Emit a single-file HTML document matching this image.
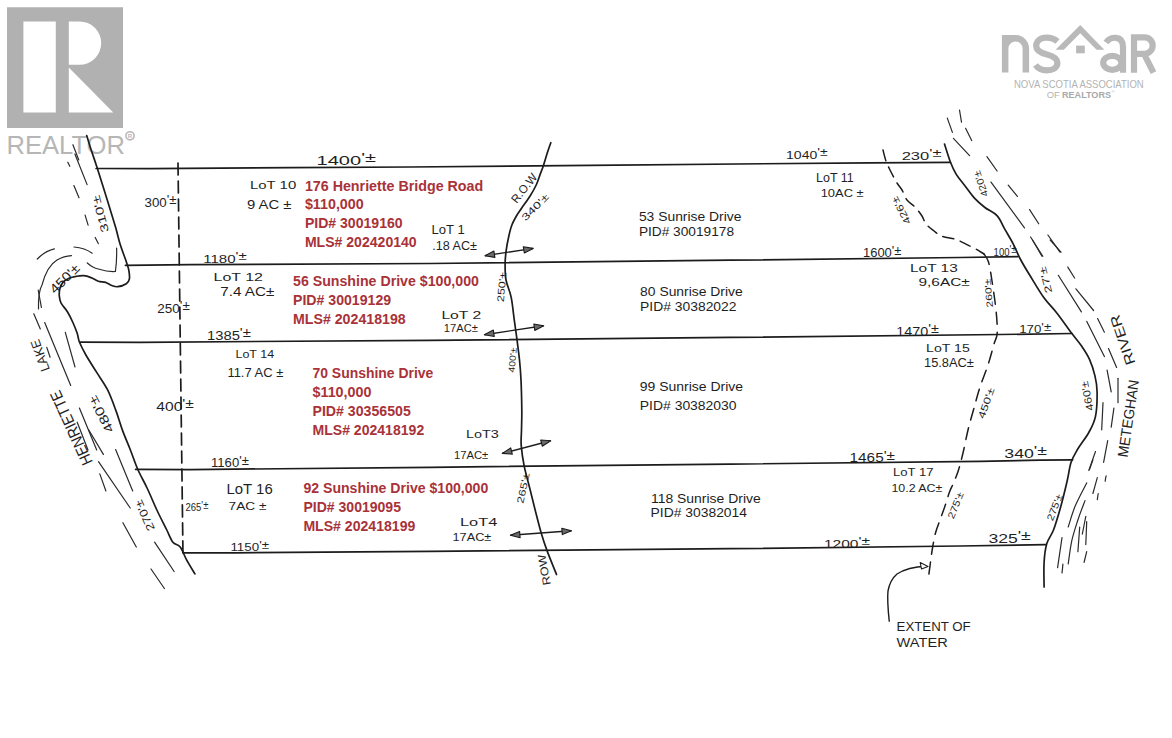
<!DOCTYPE html>
<html><head><meta charset="utf-8">
<style>
html,body{margin:0;padding:0;background:#fff;}
body{width:1172px;height:738px;overflow:hidden;position:relative;font-family:"Liberation Sans",sans-serif;}
svg{position:absolute;left:0;top:0;font-family:"Liberation Sans",sans-serif;}
.hw{fill:#1f1f1f;}
.red{font-weight:bold;fill:#a93239;}
.blk{fill:#1e1e1e;}
</style></head><body>
<svg width="1172" height="738" viewBox="0 0 1172 738">
<path fill="#b1b1b1" fill-rule="evenodd" d="M7 7.3H123V128H7Z M23.4 21.5H55.8V112.4H23.4Z M68.8 21.4H79.5A21.7 21.7 0 0 1 79.5 64.8H68.8Z M68.8 67.6L113.3 112.4H68.8Z"/>
<text x="6.5" y="154.3" font-size="25.5" fill="#b6b6b6" textLength="118.5" lengthAdjust="spacingAndGlyphs">REALTOR</text>
<circle cx="130" cy="135.8" r="4.1" fill="none" stroke="#b8b8b8" stroke-width="1.6"/>
<text x="127.7" y="138.2" font-size="6" font-weight="bold" fill="#b8b8b8">R</text>
<g fill="#b9b9b9">
<path d="M1001.9 72.4V35H1015.5A13.6 13.6 0 0 1 1029.1 48.6V72.4H1022.6V48.6A7.1 7.1 0 0 0 1008.4 48.6V72.4Z"/>
<path d="M1055.6 49.7L1080.2 25.1L1104.3 49.7H1096.6L1080.2 33.3L1063.8 49.7Z"/>
<rect x="1076.1" y="45.6" width="8.7" height="7.7"/>
</g>
<g fill="none" stroke="#b9b9b9" stroke-width="6.2">
<path d="M1057.5 41.5C1054 38.5 1050 37.6 1046.8 37.6C1040 37.6 1036.2 41.5 1036.2 46C1036.2 51 1041 53 1047 54.5C1053 56 1057.4 58 1057.4 63C1057.4 67.5 1053 70.3 1046.8 70.3C1042 70.3 1038 68.5 1035.5 65"/>
<path d="M1106 42.5C1109 38.5 1113 37.6 1116 37.8C1120.5 38.2 1123 41 1123 47V72.7"/>
<ellipse cx="1112.3" cy="62.8" rx="9.1" ry="7"/>
<path d="M1134 72.7V37.4H1144.5A8.2 8.2 0 0 1 1144.5 53.8H1134M1144 53.8L1153.5 72.7"/>
</g>
<text x="1014" y="88.3" font-size="10.6" fill="#b3b3b3" textLength="129.7" lengthAdjust="spacingAndGlyphs">NOVA SCOTIA ASSOCIATION</text>
<text x="1046.7" y="97.6" font-size="9.4" fill="#b3b3b3" textLength="13" lengthAdjust="spacingAndGlyphs">OF</text>
<text x="1062" y="97.6" font-size="9.4" font-weight="bold" fill="#a9a9a9" textLength="49" lengthAdjust="spacingAndGlyphs">REALTORS</text>
<text x="1111.5" y="93" font-size="4" fill="#b3b3b3">®</text>
<g fill="none" stroke="#1c1c1c" stroke-width="1.7" stroke-linejoin="round" stroke-linecap="round">
<polyline points="96.1,168.5 150.0,168.6 290.0,167.6 410.0,167.0 590.0,165.3 870.0,162.8 950.4,162.3" />
<polyline points="125.4,265.3 190.0,264.6 430.0,263.5 730.0,260.2 960.0,257.5 1018.0,256.7" />
<polyline points="80.0,342.2 140.0,342.3 430.0,340.3 730.0,337.4 1000.0,334.5 1071.9,333.5" />
<polyline points="135.6,469.4 190.0,469.6 430.0,467.3 730.0,464.1 980.0,461.4 1040.0,460.2 1072.7,459.8" />
<polyline points="183.7,552.8 235.0,552.8 430.0,551.4 730.0,548.7 960.0,546.0 1045.6,544.7" />
<path d="M550.8 142.7 C550.2 144.5 548.3 149.8 547.1 153.6 C545.9 157.4 544.5 162.3 543.4 165.7 C542.3 169.1 541.5 170.7 540.3 173.9 C539.1 177.1 537.9 181.3 536.2 185.0 C534.5 188.7 532.5 192.1 530.1 196.0 C527.7 199.9 523.8 204.9 521.6 208.2 C519.4 211.4 518.3 212.7 516.7 215.5 C515.1 218.3 513.1 221.8 511.8 225.2 C510.5 228.6 509.7 232.1 508.8 236.2 C507.9 240.3 506.9 245.1 506.3 249.6 C505.7 254.1 505.2 257.9 505.1 263.0 C505.1 268.1 505.0 274.3 506.0 280.0 C507.0 285.7 509.8 290.4 511.2 297.4 C512.6 304.3 513.5 314.7 514.5 321.7 C515.5 328.7 516.2 333.2 517.0 339.6 C517.8 346.0 518.8 353.3 519.5 360.0 C520.2 366.7 520.6 371.7 521.0 380.0 C521.4 388.3 521.7 401.7 521.8 410.0 C521.9 418.3 521.6 424.1 521.5 430.0 C521.4 435.9 520.8 439.4 521.2 445.4 C521.7 451.4 522.7 458.8 524.2 466.1 C525.7 473.4 528.1 481.5 530.0 489.2 C531.9 496.9 533.8 504.7 535.7 512.2 C537.6 519.7 539.6 527.6 541.5 534.1 C543.4 540.6 544.8 544.7 547.3 551.4 C549.8 558.1 555.0 570.6 556.5 574.5"/>
<path d="M86.7 135.5 C87.5 137.9 89.4 144.5 91.2 150.0 C93.0 155.5 94.6 159.8 97.3 168.3 C100.0 176.8 104.5 191.0 107.5 200.8 C110.5 210.6 113.5 220.0 115.6 227.3 C117.7 234.6 118.4 238.9 120.2 244.6 C122.0 250.3 124.9 257.4 126.3 261.7 C127.7 266.0 128.3 267.3 128.8 270.2 C129.3 273.1 129.8 276.6 129.4 278.8 C129.0 281.1 128.2 282.4 126.3 283.7 C124.4 285.0 120.2 286.4 117.8 286.7 C115.4 287.0 113.7 286.2 111.7 285.5 C109.7 284.8 107.8 283.1 105.6 282.4 C103.4 281.7 100.7 282.0 98.3 281.2 C95.9 280.4 93.4 278.5 91.0 277.6 C88.6 276.7 86.2 275.9 83.7 275.7 C81.2 275.5 78.8 275.9 76.3 276.3 C73.8 276.7 71.2 277.2 69.0 278.2 C66.8 279.2 64.4 280.7 62.9 282.4 C61.4 284.1 60.5 286.2 59.9 288.5 C59.3 290.8 59.1 293.4 59.3 295.9 C59.5 298.3 59.8 300.6 61.1 303.2 C62.5 305.8 65.4 308.5 67.4 311.7 C69.4 314.9 71.3 318.9 72.9 322.5 C74.5 326.1 76.1 330.1 77.2 333.3 C78.3 336.6 78.0 338.4 79.4 342.0 C80.9 345.6 83.0 349.9 85.9 355.0 C88.8 360.1 93.1 366.6 96.7 372.4 C100.3 378.2 104.2 383.2 107.5 389.7 C110.8 396.2 113.7 404.5 116.2 411.4 C118.7 418.3 120.4 424.5 122.7 430.9 C125.0 437.2 127.7 443.1 130.2 449.5 C132.7 455.9 134.8 462.5 137.6 469.0 C140.4 475.5 144.1 481.6 147.3 488.5 C150.6 495.4 153.8 503.6 157.1 510.5 C160.3 517.4 164.2 524.7 166.8 530.0 C169.4 535.3 170.7 539.4 172.9 542.2 C175.1 545.0 178.0 544.1 180.2 547.0 C182.4 549.9 183.9 554.8 186.3 559.3 C188.8 563.8 193.5 571.5 194.9 573.9"/>
<path d="M944.5 144.0 C945.5 147.0 948.5 157.0 950.4 162.0 C952.3 167.0 953.8 170.2 956.1 174.1 C958.5 178.0 961.4 181.1 964.5 185.2 C967.6 189.2 971.3 194.7 974.7 198.4 C978.1 202.1 981.2 204.6 984.9 207.5 C988.6 210.4 993.6 212.0 997.0 215.7 C1000.4 219.4 1002.5 225.2 1005.2 229.9 C1007.9 234.6 1010.8 239.2 1013.3 244.1 C1015.8 248.9 1017.5 253.8 1020.3 259.0 C1023.0 264.2 1025.9 269.0 1029.8 275.3 C1033.7 281.6 1038.9 290.7 1043.4 297.0 C1047.9 303.3 1052.2 307.1 1057.0 313.2 C1061.8 319.3 1067.8 328.2 1071.9 333.6 C1076.0 339.0 1078.5 341.5 1081.4 345.8 C1084.3 350.1 1087.2 354.3 1089.5 359.3 C1091.8 364.3 1093.6 370.2 1094.9 375.6 C1096.2 381.0 1097.0 385.1 1097.1 391.9 C1097.2 398.7 1096.9 409.5 1095.5 416.3 C1094.1 423.1 1091.7 427.1 1088.8 432.5 C1085.9 437.9 1080.9 443.8 1077.9 448.8 C1075.0 453.8 1072.9 456.9 1071.1 462.3 C1069.3 467.7 1068.9 473.6 1067.1 481.3 C1065.3 489.0 1062.6 500.2 1060.3 508.3 C1058.0 516.4 1055.8 524.1 1053.5 530.0 C1051.2 535.9 1048.4 538.2 1046.8 543.6 C1045.2 549.0 1044.5 555.3 1044.1 562.5 C1043.6 569.7 1044.1 582.8 1044.1 586.9"/>
</g>
<g fill="none" stroke="#1c1c1c" stroke-width="1.5" stroke-linecap="round">
<line x1="178" y1="163" x2="183" y2="556" stroke-width="1.7" stroke-dasharray="12 6"/>
<path d="M883.0 150.0 C883.5 151.8 884.8 157.7 886.0 161.0 C887.2 164.3 888.2 166.3 890.0 170.0 C891.8 173.7 895.0 179.7 897.0 183.0 C899.0 186.3 900.3 187.2 902.0 190.0 C903.7 192.8 904.8 197.2 907.0 200.0 C909.2 202.8 912.5 204.3 915.0 207.0 C917.5 209.7 920.2 213.2 922.0 216.0 C923.8 218.8 924.0 221.5 926.0 224.0 C928.0 226.5 931.4 229.0 934.0 231.0 C936.6 233.0 938.1 234.7 941.5 236.0 C944.9 237.3 951.2 238.1 954.5 239.0 C957.8 239.9 958.6 240.5 961.0 241.6 C963.4 242.7 966.3 244.2 969.0 245.6 C971.7 246.9 974.5 248.3 977.0 249.7 C979.5 251.1 982.8 253.3 984.0 254.0" stroke-dasharray="11 7"/>
<path d="M984.0 254.0 C984.8 255.3 987.2 257.5 988.5 262.0 C989.8 266.5 990.8 273.0 992.0 281.0 C993.2 289.0 995.1 301.3 996.0 310.0 C996.9 318.7 997.5 327.3 997.2 333.0 C996.9 338.7 995.5 338.7 994.0 344.0 C992.5 349.3 990.3 357.8 988.0 365.0 C985.7 372.2 982.3 379.8 980.0 387.0 C977.7 394.2 976.0 400.8 974.0 408.0 C972.0 415.2 969.8 422.5 968.0 430.0 C966.2 437.5 964.6 446.3 963.0 453.0 C961.4 459.7 960.0 465.2 958.5 470.0 C957.0 474.8 955.5 478.3 954.0 482.0 C952.5 485.7 951.0 488.0 949.5 492.0 C948.0 496.0 946.6 501.3 945.0 506.0 C943.4 510.7 941.6 515.5 940.0 520.0 C938.4 524.5 936.8 528.3 935.5 533.0 C934.2 537.7 933.3 543.2 932.5 548.0 C931.7 552.8 931.1 557.4 930.5 562.0 C929.9 566.6 929.0 573.2 928.7 575.5" stroke-dasharray="12 8"/>
</g>
<g fill="none" stroke="#2a2a2a" stroke-width="1.2" stroke-linecap="round">
<line x1="947.3" y1="118.1" x2="952.4" y2="132.4"/>
<line x1="953.4" y1="138.4" x2="969.6" y2="155.7"/>
<line x1="991" y1="182.1" x2="1024.5" y2="227.9"/>
<line x1="1030.6" y1="237" x2="1042.8" y2="256.3"/>
<line x1="959.5" y1="110" x2="961.5" y2="122.2"/>
<line x1="965.6" y1="128.3" x2="971.7" y2="140.5"/>
<line x1="986.9" y1="156.7" x2="997.1" y2="171"/>
<line x1="1008.2" y1="185.2" x2="1017.4" y2="196.4"/>
<line x1="1029.6" y1="209.6" x2="1038.7" y2="223.8"/>
<line x1="1047.9" y1="235" x2="1060" y2="252.2"/>
<line x1="1032.5" y1="240" x2="1042" y2="256.3"/>
<line x1="1058.3" y1="275.3" x2="1081.4" y2="311.9"/>
<line x1="1086.8" y1="321.4" x2="1104.4" y2="356.6"/>
<line x1="1107.1" y1="370.2" x2="1111.2" y2="391.9"/>
<line x1="1103" y1="402.7" x2="1101.7" y2="429.8"/>
<line x1="1050.2" y1="240" x2="1061" y2="252.2"/>
<line x1="1067.8" y1="267.1" x2="1074.6" y2="278"/>
<line x1="1075.9" y1="288.8" x2="1093.6" y2="310.5"/>
<line x1="1097.6" y1="318.6" x2="1104.4" y2="332.2"/>
<line x1="1108.5" y1="348.5" x2="1116.6" y2="367.5"/>
<line x1="1118" y1="378.3" x2="1118" y2="402.7"/>
<line x1="1113.9" y1="408.1" x2="1111.2" y2="427.1"/>
<line x1="1107.7" y1="440.6" x2="1103.6" y2="462.3"/>
<line x1="1095.5" y1="451.5" x2="1088.8" y2="470.4"/>
<line x1="72.9" y1="144.7" x2="78.8" y2="160"/>
<line x1="74.9" y1="154" x2="87.1" y2="184.6"/>
<line x1="67.8" y1="162.2" x2="69.8" y2="166.3"/>
<line x1="73.9" y1="185.6" x2="79" y2="197.8"/>
<line x1="85.1" y1="215.1" x2="88.1" y2="225.2"/>
<line x1="95.2" y1="237.5" x2="98.3" y2="243.6"/>
<line x1="33.8" y1="313.8" x2="40.3" y2="329"/>
<line x1="38.2" y1="290" x2="41.4" y2="307.3"/>
<line x1="44.7" y1="322.5" x2="70.7" y2="385.4"/>
<line x1="46.8" y1="347.4" x2="50.1" y2="357.2"/>
<line x1="65.3" y1="332.3" x2="75" y2="367"/>
<line x1="79.4" y1="408.1" x2="96.7" y2="450"/>
<line x1="77.2" y1="422.2" x2="88" y2="450"/>
<line x1="88.8" y1="430" x2="103.4" y2="454.4"/>
<line x1="98.5" y1="461.7" x2="130.2" y2="508"/>
<line x1="115.6" y1="449.5" x2="132.7" y2="491"/>
<line x1="99.8" y1="473.9" x2="105.9" y2="491"/>
<line x1="122.9" y1="522.7" x2="136.3" y2="547"/>
<line x1="154.6" y1="542.2" x2="174.1" y2="571.5"/>
<line x1="151" y1="569" x2="164.4" y2="588.5"/>
<path d="M1092.9 460.0 C1092.3 461.6 1090.0 468.1 1089.4 469.7"/>
<path d="M1097.3 477.6 C1096.6 480.2 1093.6 490.9 1092.9 493.5"/>
<path d="M1098.2 493.5 C1098.0 494.5 1097.5 498.7 1097.3 499.7"/>
<path d="M1086.7 482.9 C1084.8 486.7 1078.4 498.4 1075.3 505.8 C1072.2 513.1 1069.4 523.5 1068.2 527.0"/>
<path d="M1085.0 500.6 C1083.8 503.8 1080.1 513.2 1077.9 520.0 C1075.7 526.8 1073.3 533.8 1071.7 541.1 C1070.1 548.4 1068.8 560.2 1068.2 564.0"/>
<path d="M1085.8 516.4 C1085.2 519.4 1082.9 531.1 1082.3 534.1"/>
<path d="M1086.7 521.7 C1086.5 525.5 1086.0 540.8 1085.8 544.6"/>
<path d="M1079.7 527.0 C1079.4 531.1 1078.2 547.6 1077.9 551.7"/>
<path d="M1062.0 537.6 C1061.3 542.6 1058.3 562.6 1057.6 567.6"/>
<path d="M1062.9 564.0 C1062.8 565.5 1062.2 571.4 1062.0 572.9"/>
<path d="M1086.7 551.7 C1086.3 553.5 1084.5 560.5 1084.1 562.3"/>
<path d="M1106.1 475.9 C1105.9 476.8 1105.3 480.3 1105.2 481.2"/>
<path d="M37.3 259Q45 251 54.4 248.9"/>
<path d="M38.5 309Q38 292 42 285Q47 266 57 260Q64 256 71.5 255.6"/>
<path d="M74 247Q85 248 92.2 253.2"/>
<path d="M87.3 263Q93 268 98.3 269Q108 272 115.4 271.5Q117 260 116.6 248"/>
</g>
<text class="red" x="304.9" y="190.7" font-size="14" textLength="178.3" lengthAdjust="spacingAndGlyphs">176 Henriette Bridge Road</text>
<text class="red" x="304.9" y="209.4" font-size="14" textLength="58.8" lengthAdjust="spacingAndGlyphs">$110,000</text>
<text class="red" x="304.9" y="228.4" font-size="14" textLength="97.7" lengthAdjust="spacingAndGlyphs">PID# 30019160</text>
<text class="red" x="304.9" y="247.4" font-size="14" textLength="111.8" lengthAdjust="spacingAndGlyphs">MLS# 202420140</text>
<text class="red" x="293.0" y="285.8" font-size="14" textLength="185.9" lengthAdjust="spacingAndGlyphs">56 Sunshine Drive $100,000</text>
<text class="red" x="293.0" y="304.5" font-size="14" textLength="98.1" lengthAdjust="spacingAndGlyphs">PID# 30019129</text>
<text class="red" x="293.0" y="323.5" font-size="14" textLength="112.7" lengthAdjust="spacingAndGlyphs">MLS# 202418198</text>
<text class="red" x="312.5" y="378.0" font-size="14" textLength="120.8" lengthAdjust="spacingAndGlyphs">70 Sunshine Drive</text>
<text class="red" x="312.5" y="397.0" font-size="14" textLength="58.9" lengthAdjust="spacingAndGlyphs">$110,000</text>
<text class="red" x="312.5" y="415.8" font-size="14" textLength="98.3" lengthAdjust="spacingAndGlyphs">PID# 30356505</text>
<text class="red" x="312.5" y="434.6" font-size="14" textLength="111.7" lengthAdjust="spacingAndGlyphs">MLS# 202418192</text>
<text class="red" x="303.4" y="493.3" font-size="14" textLength="184.9" lengthAdjust="spacingAndGlyphs">92 Sunshine Drive $100,000</text>
<text class="red" x="303.4" y="511.8" font-size="14" textLength="97.6" lengthAdjust="spacingAndGlyphs">PID# 30019095</text>
<text class="red" x="303.4" y="530.6" font-size="14" textLength="111.9" lengthAdjust="spacingAndGlyphs">MLS# 202418199</text>
<text class="blk" x="638.9" y="220.8" font-size="13.5" textLength="102.5" lengthAdjust="spacingAndGlyphs">53 Sunrise Drive</text>
<text class="blk" x="638.9" y="235.8" font-size="13.5" textLength="95.1" lengthAdjust="spacingAndGlyphs">PID# 30019178</text>
<text class="blk" x="640.1" y="295.9" font-size="13.5" textLength="102.6" lengthAdjust="spacingAndGlyphs">80 Sunrise Drive</text>
<text class="blk" x="640.1" y="310.6" font-size="13.5" textLength="96.4" lengthAdjust="spacingAndGlyphs">PID# 30382022</text>
<text class="blk" x="639.8" y="391.0" font-size="13.5" textLength="103.3" lengthAdjust="spacingAndGlyphs">99 Sunrise Drive</text>
<text class="blk" x="639.8" y="409.7" font-size="13.5" textLength="96.8" lengthAdjust="spacingAndGlyphs">PID# 30382030</text>
<text class="blk" x="651.0" y="502.6" font-size="13.5" textLength="109.7" lengthAdjust="spacingAndGlyphs">118 Sunrise Drive</text>
<text class="blk" x="650.6" y="517.4" font-size="13.5" textLength="96.4" lengthAdjust="spacingAndGlyphs">PID# 30382014</text>
<text class="hw" x="316.6" y="165.0" font-size="12.5" textLength="59.4" lengthAdjust="spacingAndGlyphs">1400<tspan dy="-2.8">'±</tspan></text>
<text class="hw" x="250.0" y="188.5" font-size="11.5" textLength="46.2" lengthAdjust="spacingAndGlyphs">LoT 10</text>
<text class="hw" x="247.0" y="209.0" font-size="12" textLength="44.4" lengthAdjust="spacingAndGlyphs">9 AC ±</text>
<text class="hw" x="144.6" y="206.8" font-size="12" textLength="32.0" lengthAdjust="spacingAndGlyphs">300<tspan dy="-2.6">'±</tspan></text>
<text class="hw" x="203.2" y="262.5" font-size="11" textLength="43.6" lengthAdjust="spacingAndGlyphs">1180<tspan dy="-2.4">'±</tspan></text>
<text class="hw" x="213.6" y="280.5" font-size="11.5" textLength="49.4" lengthAdjust="spacingAndGlyphs">LoT 12</text>
<text class="hw" x="220.3" y="295.7" font-size="12" textLength="54.1" lengthAdjust="spacingAndGlyphs">7.4 AC±</text>
<text class="hw" x="157.3" y="312.8" font-size="12.5" textLength="32.5" lengthAdjust="spacingAndGlyphs">250<tspan dy="-2.8">'±</tspan></text>
<text class="hw" x="207.0" y="339.8" font-size="12.5" textLength="43.8" lengthAdjust="spacingAndGlyphs">1385<tspan dy="-2.8">'±</tspan></text>
<text class="hw" x="235.5" y="358.0" font-size="10" textLength="38.6" lengthAdjust="spacingAndGlyphs">LoT 14</text>
<text class="hw" x="227.4" y="377.4" font-size="12" textLength="55.9" lengthAdjust="spacingAndGlyphs">11.7 AC ±</text>
<text class="hw" x="156.3" y="411.0" font-size="12" textLength="37.6" lengthAdjust="spacingAndGlyphs">400<tspan dy="-2.6">'±</tspan></text>
<text class="hw" x="211.0" y="467.3" font-size="12" textLength="37.9" lengthAdjust="spacingAndGlyphs">1160<tspan dy="-2.6">'±</tspan></text>
<text class="hw" x="226.5" y="493.7" font-size="14" textLength="46.2" lengthAdjust="spacingAndGlyphs">LoT 16</text>
<text class="hw" x="228.6" y="509.6" font-size="11.5" textLength="37.9" lengthAdjust="spacingAndGlyphs">7AC ±</text>
<text class="hw" x="185.5" y="510.8" font-size="10.5" textLength="22.9" lengthAdjust="spacingAndGlyphs">265<tspan dy="-2.3">'±</tspan></text>
<text class="hw" x="230.4" y="551.0" font-size="11" textLength="38.7" lengthAdjust="spacingAndGlyphs">1150<tspan dy="-2.4">'±</tspan></text>
<text class="hw" x="431.5" y="233.9" font-size="13" textLength="33.2" lengthAdjust="spacingAndGlyphs">LoT 1</text>
<text class="hw" x="432.2" y="249.8" font-size="12" textLength="44.7" lengthAdjust="spacingAndGlyphs">.18 AC±</text>
<text class="hw" x="441.4" y="318.8" font-size="11" textLength="39.8" lengthAdjust="spacingAndGlyphs">LoT 2</text>
<text class="hw" x="443.8" y="331.5" font-size="10.5" textLength="34.1" lengthAdjust="spacingAndGlyphs">17AC±</text>
<text class="hw" x="466.0" y="438.2" font-size="11" textLength="32.8" lengthAdjust="spacingAndGlyphs">LoT3</text>
<text class="hw" x="454.0" y="459.0" font-size="11" textLength="34.3" lengthAdjust="spacingAndGlyphs">17AC±</text>
<text class="hw" x="460.0" y="526.0" font-size="11" textLength="37.3" lengthAdjust="spacingAndGlyphs">LoT4</text>
<text class="hw" x="452.5" y="541.0" font-size="10.5" textLength="38.8" lengthAdjust="spacingAndGlyphs">17AC±</text>
<text class="hw" x="786.1" y="158.8" font-size="11.5" textLength="41.5" lengthAdjust="spacingAndGlyphs">1040<tspan dy="-2.5">'±</tspan></text>
<text class="hw" x="901.7" y="159.5" font-size="11" textLength="39.8" lengthAdjust="spacingAndGlyphs">230<tspan dy="-2.4">'±</tspan></text>
<text class="hw" x="816.0" y="181.8" font-size="12" textLength="37.7" lengthAdjust="spacingAndGlyphs">LoT 11</text>
<text class="hw" x="820.7" y="197.2" font-size="11.5" textLength="43.0" lengthAdjust="spacingAndGlyphs">10AC ±</text>
<text class="hw" x="863.0" y="257.2" font-size="12" textLength="38.4" lengthAdjust="spacingAndGlyphs">1600<tspan dy="-2.6">'±</tspan></text>
<text class="hw" x="993.6" y="255.5" font-size="11" textLength="23.0" lengthAdjust="spacingAndGlyphs">100<tspan dy="-2.4">'±</tspan></text>
<text class="hw" x="910.0" y="271.7" font-size="10.5" textLength="47.7" lengthAdjust="spacingAndGlyphs">LoT 13</text>
<text class="hw" x="918.5" y="286.2" font-size="11.5" textLength="51.2" lengthAdjust="spacingAndGlyphs">9,6AC±</text>
<text class="hw" x="896.3" y="336.0" font-size="12" textLength="42.7" lengthAdjust="spacingAndGlyphs">1470<tspan dy="-2.6">'±</tspan></text>
<text class="hw" x="1019.2" y="333.4" font-size="11.5" textLength="32.0" lengthAdjust="spacingAndGlyphs">170<tspan dy="-2.5">'±</tspan></text>
<text class="hw" x="926.1" y="351.5" font-size="11.5" textLength="43.7" lengthAdjust="spacingAndGlyphs">LoT 15</text>
<text class="hw" x="924.0" y="366.8" font-size="12.5" textLength="49.9" lengthAdjust="spacingAndGlyphs">15.8AC±</text>
<text class="hw" x="849.6" y="462.3" font-size="12" textLength="45.4" lengthAdjust="spacingAndGlyphs">1465<tspan dy="-2.6">'±</tspan></text>
<text class="hw" x="1004.3" y="458.0" font-size="12.5" textLength="42.7" lengthAdjust="spacingAndGlyphs">340<tspan dy="-2.8">'±</tspan></text>
<text class="hw" x="893.0" y="476.4" font-size="10.5" textLength="40.6" lengthAdjust="spacingAndGlyphs">LoT 17</text>
<text class="hw" x="891.4" y="492.3" font-size="10.5" textLength="51.0" lengthAdjust="spacingAndGlyphs">10.2 AC±</text>
<text class="hw" x="823.9" y="547.7" font-size="11" textLength="46.1" lengthAdjust="spacingAndGlyphs">1200<tspan dy="-2.4">'±</tspan></text>
<text class="hw" x="988.4" y="543.0" font-size="13" textLength="42.4" lengthAdjust="spacingAndGlyphs">325<tspan dy="-2.9">'±</tspan></text>
<text class="hw" x="896.6" y="630.6" font-size="12" textLength="74.0" lengthAdjust="spacingAndGlyphs">EXTENT OF</text>
<text class="hw" x="896.6" y="646.5" font-size="12" textLength="51.1" lengthAdjust="spacingAndGlyphs">WATER</text>
<text class="hw" x="524.0" y="192.2" font-size="11.8" text-anchor="middle" textLength="34.0" lengthAdjust="spacingAndGlyphs" transform="rotate(-51.7 524.0 188.0)">R.O.W</text>
<text class="hw" x="535.0" y="210.5" font-size="9.7" text-anchor="middle" textLength="34.0" lengthAdjust="spacingAndGlyphs" transform="rotate(-45.0 535.0 207.0)">340'±</text>
<text class="hw" x="501.5" y="290.5" font-size="9.7" text-anchor="middle" textLength="30.0" lengthAdjust="spacingAndGlyphs" transform="rotate(-85.0 501.5 287.0)">250'±</text>
<text class="hw" x="512.5" y="363.2" font-size="9.0" text-anchor="middle" textLength="25.0" lengthAdjust="spacingAndGlyphs" transform="rotate(-85.0 512.5 360.0)">400'±</text>
<text class="hw" x="523.0" y="491.5" font-size="9.7" text-anchor="middle" textLength="31.0" lengthAdjust="spacingAndGlyphs" transform="rotate(-78.0 523.0 488.0)">265'±</text>
<text class="hw" x="544.0" y="574.0" font-size="11.1" text-anchor="middle" textLength="31.0" lengthAdjust="spacingAndGlyphs" transform="rotate(-100.0 544.0 570.0)">ROW</text>
<text class="hw" x="100.3" y="218.0" font-size="11.1" text-anchor="middle" textLength="38.0" lengthAdjust="spacingAndGlyphs" transform="rotate(-105.0 100.3 214.0)">310'±</text>
<text class="hw" x="64.5" y="283.2" font-size="13.2" text-anchor="middle" textLength="36.0" lengthAdjust="spacingAndGlyphs" transform="rotate(-45.0 64.5 278.5)">450'±</text>
<text class="hw" x="980.8" y="187.2" font-size="9.7" text-anchor="middle" textLength="27.0" lengthAdjust="spacingAndGlyphs" transform="rotate(-109.4 980.8 183.7)">420'±</text>
<text class="hw" x="901.0" y="214.0" font-size="9.7" text-anchor="middle" textLength="30.0" lengthAdjust="spacingAndGlyphs" transform="rotate(-118.0 901.0 210.5)">426'±</text>
<text class="hw" x="988.5" y="296.2" font-size="9.0" text-anchor="middle" textLength="29.0" lengthAdjust="spacingAndGlyphs" transform="rotate(-95.0 988.5 293.0)">260'±</text>
<text class="hw" x="1045.4" y="283.5" font-size="9.7" text-anchor="middle" textLength="27.0" lengthAdjust="spacingAndGlyphs" transform="rotate(-104.8 1045.4 280.0)">27'±</text>
<text class="hw" x="1122.4" y="345.0" font-size="13.9" text-anchor="middle" textLength="52.0" lengthAdjust="spacingAndGlyphs" transform="rotate(-108.7 1122.4 340.0)">RIVER</text>
<text class="hw" x="1087.0" y="399.8" font-size="10.4" text-anchor="middle" textLength="30.0" lengthAdjust="spacingAndGlyphs" transform="rotate(-101.5 1087.0 396.0)">460'±</text>
<text class="hw" x="1128.0" y="423.8" font-size="14.6" text-anchor="middle" textLength="78.0" lengthAdjust="spacingAndGlyphs" transform="rotate(-81.5 1128.0 418.5)">METEGHAN</text>
<text class="hw" x="986.0" y="406.5" font-size="9.7" text-anchor="middle" textLength="32.0" lengthAdjust="spacingAndGlyphs" transform="rotate(-70.5 986.0 403.0)">450'±</text>
<text class="hw" x="955.5" y="508.8" font-size="9.7" text-anchor="middle" textLength="28.0" lengthAdjust="spacingAndGlyphs" transform="rotate(-67.8 955.5 505.3)">275'±</text>
<text class="hw" x="1054.5" y="510.8" font-size="9.7" text-anchor="middle" textLength="28.0" lengthAdjust="spacingAndGlyphs" transform="rotate(-68.8 1054.5 507.3)">275'±</text>
<text class="hw" x="40.0" y="360.2" font-size="13.2" text-anchor="middle" textLength="33.0" lengthAdjust="spacingAndGlyphs" transform="rotate(-110.0 40.0 355.5)">LAKE</text>
<text class="hw" x="71.0" y="433.8" font-size="16.0" text-anchor="middle" textLength="80.0" lengthAdjust="spacingAndGlyphs" transform="rotate(-114.6 71.0 428.0)">HENRIETTE</text>
<text class="hw" x="101.0" y="418.8" font-size="12.5" text-anchor="middle" textLength="40.0" lengthAdjust="spacingAndGlyphs" transform="rotate(-117.8 101.0 414.3)">480'±</text>
<text class="hw" x="144.5" y="519.5" font-size="11.1" text-anchor="middle" textLength="33.0" lengthAdjust="spacingAndGlyphs" transform="rotate(-114.6 144.5 515.5)">270'±</text>
<g fill="none" stroke="#1c1c1c" stroke-width="1.4" stroke-linejoin="round">
<line x1="485" y1="255.7" x2="533.2" y2="248.4"/>
<line x1="484.4" y1="334.7" x2="543.7" y2="325.8"/>
<line x1="502.3" y1="453.4" x2="550.7" y2="440.7"/>
<line x1="510.4" y1="535.3" x2="571.5" y2="530.7"/>
<path d="M889.3 621.8Q887 600 888 591Q890 580 897 574Q908 567 926 566.3"/>
</g>
<g stroke="#1c1c1c" stroke-width="1.1" stroke-linejoin="round">
<path d="M485.0 255.7L494.9 257.4L493.9 251.1Z" fill="#6a6a6a"/>
<path d="M533.2 248.4L523.3 246.7L524.3 253.0Z" fill="#6a6a6a"/>
<path d="M484.4 334.7L494.3 336.5L493.3 330.1Z" fill="#6a6a6a"/>
<path d="M543.7 325.8L533.8 324.0L534.8 330.4Z" fill="#6a6a6a"/>
<path d="M502.3 453.4L512.3 454.1L510.7 447.9Z" fill="#6a6a6a"/>
<path d="M550.7 440.7L540.7 440.0L542.3 446.2Z" fill="#6a6a6a"/>
<path d="M510.4 535.3L520.1 537.8L519.6 531.4Z" fill="#6a6a6a"/>
<path d="M571.5 530.7L561.8 528.2L562.3 534.6Z" fill="#6a6a6a"/>
<path d="M928 566.5L920.2 562.6L921.5 569Z" fill="#fff"/>
</g>
</svg>
</body></html>
